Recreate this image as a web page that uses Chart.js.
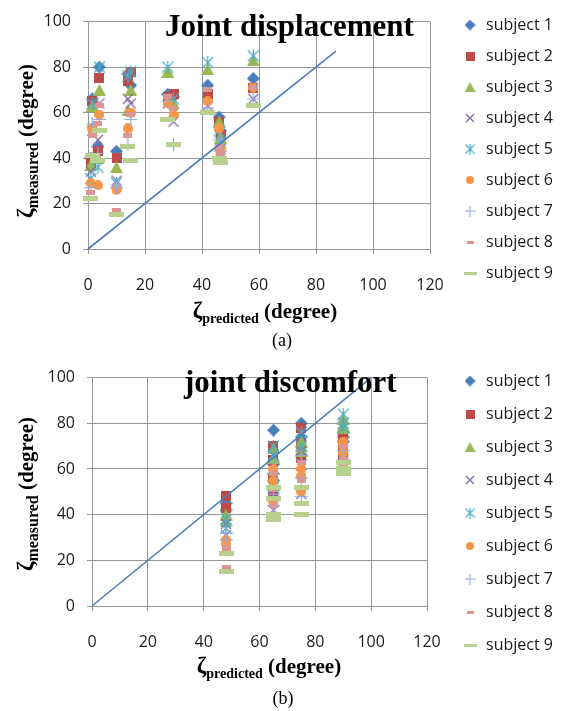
<!DOCTYPE html>
<html><head><meta charset="utf-8">
<script src="https://cdn.jsdelivr.net/npm/chart.js@4/dist/chart.umd.min.js"></script>
<style>
html,body{margin:0;padding:0;background:#fff;}
#page{position:relative;width:569px;height:711px;overflow:hidden;background:#fff;}
.cw{position:absolute;left:0;width:569px;height:320px;}
.ov{position:absolute;font-family:'Liberation Serif',serif;color:#000;white-space:nowrap;line-height:1;}
.bold{font-weight:bold;}
.sb{font-size:14px;vertical-align:-5px;}
.sbm{font-size:16px;vertical-align:-5px;}
.z{font-size:23px;}
</style></head>
<body><div id="page">
<div class="cw" style="top:0"><canvas id="cA" width="569" height="320"></canvas></div>
<div class="cw" style="top:356px"><canvas id="cB" width="569" height="320"></canvas></div>

<div class="ov bold" style="left:165px;top:10px;font-size:31px;">Joint displacement</div>
<div class="ov bold" style="left:184px;top:366px;font-size:31px;">joint discomfort</div>

<div class="ov bold" style="left:27px;top:141px;font-size:21px;transform:translate(-50%,-50%) rotate(-90deg);"><span class="z">ζ</span><span class="sbm">measured</span> (degree)</div>
<div class="ov bold" style="left:27px;top:494px;font-size:21px;transform:translate(-50%,-50%) rotate(-90deg);"><span class="z">ζ</span><span class="sbm">measured</span> (degree)</div>

<div class="ov bold" style="left:265px;top:312px;font-size:21px;transform:translate(-50%,-50%);"><span class="z">ζ</span><span class="sb">predicted</span> (degree)</div>
<div class="ov bold" style="left:269px;top:667px;font-size:21px;transform:translate(-50%,-50%);"><span class="z">ζ</span><span class="sb">predicted</span> (degree)</div>

<div class="ov" style="left:282px;top:340px;font-size:18px;transform:translate(-50%,-50%);">(a)</div>
<div class="ov" style="left:283px;top:698px;font-size:18px;transform:translate(-50%,-50%);">(b)</div>
</div>
<script>
// ---------- data ----------
const subjectNames = ['subject 1','subject 2','subject 3','subject 4','subject 5','subject 6','subject 7','subject 8','subject 9'];
const xTicksLabels = [0, 20, 40, 60, 80, 100, 120];
const yTicksLabels = [0, 20, 40, 60, 80, 100];

// (a) joint displacement
const dispX  = [1.5, 1, 4, 3.5, 10, 15, 14, 28, 30, 42, 46, 46.5, 58];
const dispS1 = [66, 40, 80, 45, 43, 72, 77, 68, 67, 72, 58, 52, 75];
const dispS2 = [65, 38, 75, 43, 40, 78, 74, 67, 68, 68, 56, 50, 71];
const dispS3 = [63, 37, 70, 40, 36, 70, 61, 78, 64, 79, 56, 49, 83];
const dispS4 = [52, 34, 64, 48, 30, 64, 66, 64, 56, 63, 42, 44, 66];
const dispS5 = [64, 31, 80, 36, 29, 78, 76, 80, 66, 82, 52, 47, 85];
const dispS6 = [53, 29, 59, 28, 26, 60, 53, 64, 59, 65, 53, 44, 71];
const dispS7 = [55, 27, 57, 42, 27, 57, 46, 65, 46, 62, 48, 43, 66];
const dispS8 = [50, 25, 63, 55, 17, 59, 50, 67, 62, 70, 45, 42, 71];
const dispS9 = [41, 22, 52, 39, 15, 39, 45, 57, 46, 60, 40, 38, 63];
const dispDiagX = [0, 87];
const dispDiagY = [0, 87];

// (b) joint discomfort
const discX  = [48, 48, 65, 65, 65, 65, 75, 75, 75, 90, 90, 90];
const discS1 = [45, 42, 77, 62, 55, 51, 80, 74, 66, 76, 72, 74];
const discS2 = [48, 43, 70, 64, 50, 56, 78, 71, 65, 73, 69, 66];
const discS3 = [40, 37, 69, 65, 60, 53, 72, 68, 70, 82, 79, 78];
const discS4 = [36, 31, 66, 56, 48, 42, 68, 49, 58, 68, 65, 63];
const discS5 = [38, 34, 70, 66, 52, 46, 76, 70, 62, 84, 80, 78];
const discS6 = [29, 27, 60, 55, 46, 52, 60, 50, 57, 72, 70, 67];
const discS7 = [32, 29, 63, 58, 44, 49, 66, 56, 48, 68, 64, 62];
const discS8 = [25, 17, 58, 51, 44, 47, 63, 56, 55, 70, 62, 64];
const discS9 = [23, 15, 52, 47, 40, 38, 52, 45, 40, 63, 60, 58];
const discDiagX = [0, 100];
const discDiagY = [0, 100];

// ---------- styles ----------
const markerKinds  = ['diamond','square','triangle','x','star','circle','plus','bar','bar'];
const markerColors = ['#4A7EBB','#BE4B48','#98B954','#8064A2','#4BACC6','#F79646','#8FAADC','#D99694','#B9D18E'];
const dataSizes    = [[13,13],[10,10],[13,12],[12,12],[13,13],[10,10],[13,13],[9,5],[15,5]];
const legendSizes  = [[11,11],[9,9],[11,10],[10,10],[11,11],[8,8],[11,11],[7,3],[13,3]];

function marker(kind, color, w, h) {
  const c = document.createElement('canvas');
  c.width = w; c.height = h;
  const g = c.getContext('2d');
  g.fillStyle = color; g.strokeStyle = color; g.lineWidth = 1.2;
  g.beginPath();
  switch (kind) {
    case 'diamond': g.moveTo(w/2,0); g.lineTo(w,h/2); g.lineTo(w/2,h); g.lineTo(0,h/2); g.closePath(); g.fill(); break;
    case 'square': g.fillRect(0,0,w,h); break;
    case 'triangle': g.moveTo(w/2,0); g.lineTo(w,h); g.lineTo(0,h); g.closePath(); g.fill(); break;
    case 'x': g.moveTo(1,1); g.lineTo(w-1,h-1); g.moveTo(w-1,1); g.lineTo(1,h-1); g.stroke(); break;
    case 'star': g.moveTo(1,1); g.lineTo(w-1,h-1); g.moveTo(w-1,1); g.lineTo(1,h-1); g.moveTo(w/2,0); g.lineTo(w/2,h); g.stroke(); break;
    case 'circle': g.arc(w/2,h/2,w/2,0,Math.PI*2); g.fill(); break;
    case 'plus': g.moveTo(w/2,0); g.lineTo(w/2,h); g.moveTo(0,h/2); g.lineTo(w,h/2); g.stroke(); break;
    case 'bar': g.fillRect(0,0,w,h); break;
  }
  return c;
}
const dataMarkers = markerKinds.map((k,i)=>marker(k, markerColors[i], dataSizes[i][0], dataSizes[i][1]));
const legendMarkers = markerKinds.map((k,i)=>marker(k, markerColors[i], legendSizes[i][0], legendSizes[i][1]));

function buildDatasets(xs, series, diagX, diagY) {
  const ds = series.map((ys, i) => ({
    label: subjectNames[i],
    data: xs.map((x, j) => ({x: x, y: ys[j]})),
    pointStyle: dataMarkers[i],
    backgroundColor: markerColors[i],
    borderColor: markerColors[i],
    showLine: false,
    clip: false,
    order: 20 - i
  }));
  ds.push({
    label: 'diag',
    data: diagX.map((x, j) => ({x: x, y: diagY[j]})),
    showLine: true, pointRadius: 0, borderColor: '#4A7EBB', borderWidth: 1.6,
    fill: false, order: 1, clip: false
  });
  return ds;
}

const tickFont = {family: "'Open Sans'", size: 16};
const gridColor = '#979797';

function makeConfig(datasets, yWidth, xHeight, padRight, legendLeft, legendTop, legendPad) {
  return {
    type: 'scatter',
    data: {datasets},
    options: {
      animation: false, responsive: false, devicePixelRatio: 1,
      layout: {padding: {left: 0, top: 0, right: padRight, bottom: 0}},
      plugins: {
        tooltip: {enabled: false},
        legend: {
          position: 'right', align: 'start', maxWidth: 100,
          labels: {
            usePointStyle: true, boxHeight: 12, padding: legendPad,
            font: {family: "'Open Sans'", size: 16}, color: '#1a1a1a',
            generateLabels: (chart) => chart.data.datasets.slice(0, 9).map((d, i) => ({
              text: d.label, pointStyle: legendMarkers[i], fillStyle: markerColors[i],
              strokeStyle: markerColors[i], lineWidth: 0, hidden: false, datasetIndex: i, fontColor: '#1a1a1a'
            }))
          }
        },
        legendShift: {left: legendLeft, top: legendTop}
      },
      scales: {
        x: {
          type: 'linear', min: 0, max: 120,
          afterBuildTicks: (s) => { s.ticks = xTicksLabels.map(v => ({value: v})); },
          afterFit: (s) => { s.height = xHeight; },
          ticks: {font: tickFont, color: '#1a1a1a', padding: 22, maxRotation: 0},
          grid: {color: gridColor, lineWidth: 1, tickLength: 5, tickColor: gridColor},
          border: {color: gridColor, width: 1}
        },
        y: {
          type: 'linear', min: 0, max: 100,
          afterBuildTicks: (s) => { s.ticks = yTicksLabels.map(v => ({value: v})); },
          afterFit: (s) => { s.width = yWidth; },
          ticks: {font: tickFont, color: '#1a1a1a', padding: 12},
          grid: {color: gridColor, lineWidth: 1, tickLength: 5, tickColor: gridColor},
          border: {color: gridColor, width: 1}
        }
      }
    },
    plugins: [{
      id: 'legendShift',
      afterLayout(chart, args, opts) {
        const lg = chart.legend; if (!lg) return;
        const dx = opts.left - lg.left, dy = opts.top - lg.top;
        lg.left += dx; lg.top += dy; lg.bottom += dy;
        lg.width = 569 - lg.left;
        lg.right = lg.left + lg.width;
      }
    }]
  };
}

new Chart(document.getElementById('cA'), makeConfig(
  buildDatasets(dispX, [dispS1,dispS2,dispS3,dispS4,dispS5,dispS6,dispS7,dispS8,dispS9], dispDiagX, dispDiagY),
  88, 71, 39, 447, 2, 15));
new Chart(document.getElementById('cB'), makeConfig(
  buildDatasets(discX, [discS1,discS2,discS3,discS4,discS5,discS6,discS7,discS8,discS9], discDiagX, discDiagY),
  92, 70, 42, 445, 0, 17));
</script>
</body></html>
